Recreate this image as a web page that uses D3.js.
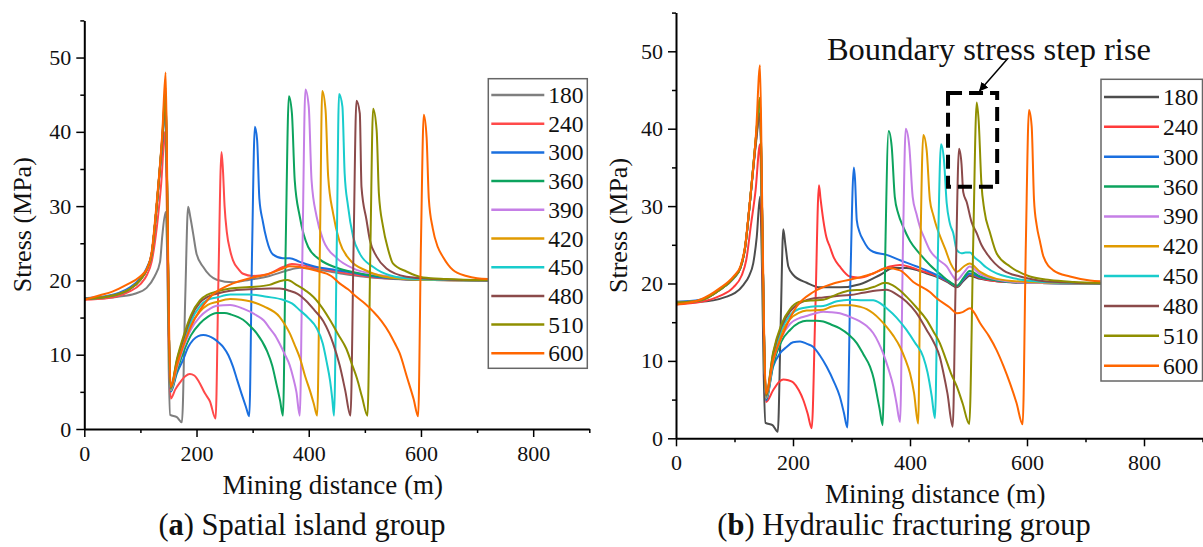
<!DOCTYPE html>
<html>
<head>
<meta charset="utf-8">
<script src="https://cdn.jsdelivr.net/npm/d3@7"></script>
<style>
  body { margin: 0; background: #fff; }
  svg text { font-family: "Liberation Serif", "Times New Roman", serif; fill: #111; }
</style>
</head>
<body>
<svg id="chart" width="1203" height="547"></svg>
<script>
// face positions (legend labels)
var distances = [180, 240, 300, 360, 390, 420, 450, 480, 510, 600];
var colorsA = ["#7f7f7f", "#ff4a4a", "#1a6fdf", "#0ca35e", "#c57fe6", "#e09a00", "#19cccc", "#8b4a4a", "#8f8f00", "#ff6600"];
var colorsB = ["#4d4d4d", "#ff3b3b", "#1a6fdf", "#0ca35e", "#c57fe6", "#e09a00", "#19cccc", "#8b4a4a", "#8f8f00", "#ff6600"];
var xTicks = [0, 200, 400, 600, 800];
var xMinor = [100, 300, 500, 700, 900];
var yTicks = [0, 10, 20, 30, 40, 50];
var yMinor = [5, 15, 25, 35, 45, 55];

// (a) spatial island group : [mining distance, stress]
var a180 = [[0,17.6],[30,17.6],[60,17.8],[90,18.2],[111,19.0],[125,20.5],[135,22.5],[139,26],[145,29.2],[148,22],[150.5,8],[153,1.9],[165,1.6],[174,0.9],[180,18],[185,29.9],[189,28.5],[194,26.3],[200,23.6],[212,21.8],[236,20.1],[265,19.75],[295,20.1],[330,20.6],[360,21.3],[385,21.7],[420,21.4],[460,20.9],[500,20.5],[550,20.2],[620,20.05],[720,20.0]];
var a240 = [[0,17.4],[40,17.6],[80,18.5],[100,19.5],[112,20.8],[120,22.5],[129,27],[137,33],[144,40],[147,30],[150,14],[154,4.1],[162,5.3],[170,6.2],[180,7.1],[188,7.4],[196,7.2],[204,6.4],[215,4.8],[224,3.7],[234,1.4],[239,20],[244.5,37.3],[247,35],[250,30],[254,26.5],[260,24],[265,22.7],[275,21.5],[283,20.9],[300,20.6],[325,20.8],[354,21.8],[370,22.2],[390,22.0],[420,21.6],[450,21.2],[480,20.8],[520,20.4],[560,20.2],[620,20.05],[720,20.0]];
var a300 = [[0,17.6],[40,17.9],[80,19.0],[100,20.3],[112,21.8],[120,23.6],[129,30],[139,38.5],[145,43.5],[148,30],[151,12],[154,5.0],[165,7.5],[176,9.3],[185,11],[194,12.0],[203,12.5],[212,12.65],[222,12.5],[230,12.2],[240,11.6],[248,11.0],[257,9.9],[265,8.4],[272,6.7],[280,4.8],[288,3.0],[294,1.7],[299,24],[304,40.7],[308,38.9],[312,31],[318,28],[325,25.5],[336,23.5],[354,23.0],[366,23.0],[384,22.5],[414,21.8],[440,21.5],[473,21.1],[500,20.7],[530,20.4],[570,20.15],[620,20.05],[720,20.0]];
var a360 = [[0,17.5],[40,17.8],[80,18.8],[100,20.1],[112,21.6],[120,23.5],[129,30],[139,39],[145,45],[148,30],[151,12],[154,5.1],[165,7.8],[176,10.2],[190,12.6],[206,14.2],[220,15.1],[236,15.6],[250,15.6],[262,15.4],[283,14.7],[295,13.9],[307,12.9],[325,10.6],[335,8.5],[342,6.2],[349,3.8],[354,1.8],[359,25],[364.6,44.8],[370,42.5],[375,33.5],[384,28.6],[399,24.5],[420,22.8],[450,21.7],[480,21.1],[520,20.6],[570,20.2],[640,20.05],[720,20.0]];
var a390 = [[0,17.5],[40,17.8],[80,18.8],[100,20.1],[112,21.6],[120,23.5],[129,30],[139,39.2],[145,45.5],[148,30],[151,12],[154,5.2],[165,8.2],[176,10.8],[190,13.4],[206,15.1],[220,16.0],[236,16.6],[260,16.7],[283,16.2],[307,15.3],[320,14.6],[331,13.5],[340,12.6],[348,11.5],[357,10.1],[366,8.6],[372,7.0],[378,5.0],[384,1.8],[389,25],[394,45.7],[400,43.4],[405,33.5],[414,28.6],[426,25.4],[450,23.0],[480,21.6],[520,20.8],[560,20.4],[620,20.1],[720,20.0]];
var a420 = [[0,17.5],[40,17.8],[80,18.8],[100,20.1],[112,21.6],[120,23.5],[129,30],[139,39.5],[145,46],[148,30],[151,12],[154,5.3],[165,8.6],[176,11.3],[190,14.0],[206,15.8],[220,16.7],[236,17.1],[260,17.5],[280,17.4],[295,17.2],[320,16.5],[348,15.1],[358,14.0],[366,12.9],[375,11.3],[384,9.6],[394,7.0],[402,5.2],[409,3.4],[415,1.8],[420,25],[424,45.5],[430,42.9],[434.6,34],[443.5,29],[455,25.2],[473,22.8],[503,21.3],[544,20.4],[600,20.1],[720,20.0]];
var a450 = [[0,17.5],[40,17.8],[80,18.8],[100,20.1],[112,21.6],[120,23.5],[129,30],[139,39.2],[145,45.2],[148,30],[151,12],[154,5.4],[165,8.9],[176,11.6],[190,14.5],[206,16.5],[220,17.4],[236,17.7],[260,18.1],[295,18.1],[325,17.8],[354,17.4],[370,16.9],[384,16.0],[400,14.9],[414,13.6],[425,11.5],[432,9.0],[438,6.5],[442,4.0],[445,1.8],[450,25],[454,45.1],[460,43.4],[464,34.4],[470,30],[479,25.9],[491,23.6],[515,21.8],[544,20.7],[590,20.2],[720,20.0]];
var a480 = [[0,17.5],[40,17.8],[80,18.8],[100,20.1],[112,21.6],[120,23.5],[129,30],[139,38.8],[145,44.5],[148,30],[151,12],[154,5.5],[165,9.2],[176,12.0],[190,15.0],[206,17.0],[220,17.8],[236,18.2],[260,18.6],[295,18.8],[330,18.9],[348,18.9],[366,18.6],[380,18.2],[396,17.2],[410,16.0],[426,14.5],[443.5,11.5],[455,8.6],[465,5.2],[474.4,1.8],[480,25],[485,44.2],[491,42.5],[494,32.6],[503,28.1],[509,25.4],[521,23.2],[538.5,21.6],[574,20.5],[622,20.2],[720,20.0]];
var a510 = [[0,17.5],[40,17.8],[80,18.8],[100,20.1],[112,21.6],[120,23.5],[129,30],[139,39],[145,45],[148,30],[151,12],[154,5.6],[165,9.4],[176,12.3],[190,15.3],[206,17.3],[220,18.1],[236,18.5],[260,18.9],[295,19.1],[330,19.4],[348,19.9],[362,20.05],[378,19.4],[395,18.6],[408,17.8],[425,16.2],[437.6,14.7],[452,12.8],[467,10.8],[478,8.5],[486,6.8],[495,4.3],[504.7,1.8],[510,25],[514.7,43.1],[521,40.2],[525,31.7],[532.5,27.2],[541,24.3],[550,22.3],[574,21.2],[604,20.4],[645,20.2],[720,20.05]];
var a600 = [[0,17.4],[28,18.0],[50,18.5],[75,19.4],[99,20.5],[112,21.6],[120,23.8],[129,30.5],[139,39.8],[145,48],[148,32],[151,14],[153.8,5.7],[165,8.6],[176,11.1],[190,13.8],[206,16.0],[220,17.4],[236,18.5],[250,19.1],[265,19.6],[295,20.3],[325,20.8],[354,21.6],[366,21.9],[384,21.8],[414,21.3],[440,20.6],[455,19.6],[470,18.8],[485,17.8],[500,16.9],[515,15.8],[530,14.5],[544,12.9],[553,11.6],[562,10.2],[575,7.0],[587,4.0],[595,1.7],[600,25],[605,42.3],[610,39.3],[614,31],[621,27],[630,24.5],[639,23.2],[657,21.4],[681,20.6],[700,20.3],[720,20.2]];

// (b) hydraulic fracturing group
var b180 = [[0,17.65],[41,17.65],[86.6,18.3],[115,19.8],[125,21],[132,22.6],[138,26],[143.6,31.2],[147,22],[150,8],[153,2.0],[165,1.7],[174,0.85],[179,15],[183.4,27.0],[187,25],[192,22.2],[200.5,21.1],[223.4,20.1],[246,19.5],[280,19.5],[314.5,19.9],[348.7,21.1],[371.5,22.0],[394,22.0],[428.5,21.3],[451,20.7],[468,20.0],[480,19.5],[492,20.4],[502,21.0],[520,20.6],[548,20.3],[600,20.1],[726,20.0]];
var b240 = [[0,17.3],[41,17.6],[75,18.4],[98,19.5],[112,21],[120,23],[128,27.5],[136,32],[143.6,38],[147,26],[151,10],[153.8,4.7],[166,6.2],[175,7.2],[183.4,7.6],[192,7.5],[200.5,7.2],[210,6.2],[217.6,4.95],[225,3.2],[232,1.3],[238,16],[244.4,32.7],[247,31],[251.8,28.2],[257,26],[263,24.75],[270,23.3],[280,22.2],[297.4,20.9],[314.5,20.75],[337,21.3],[365.8,22.2],[383,22.4],[417,21.7],[451,20.8],[468,20.1],[480,19.6],[492,20.6],[502,21.2],[520,20.7],[548,20.3],[600,20.1],[726,20.0]];
var b300 = [[0,17.6],[41,17.9],[75,19.2],[98,20.6],[110,22],[118,24.5],[126.5,30.5],[136.8,38.5],[143.6,43],[147,30],[151,11],[153.8,4.9],[166,9.25],[178,11],[189,11.8],[200,12.4],[212,12.5],[224,12.2],[234.7,11.8],[246,10.7],[257.6,9.25],[270,7.3],[280,5.4],[287,3.3],[292.9,1.4],[298,20],[304,35.0],[306,33.5],[309,28.2],[314,26.6],[320,25.6],[328,24.6],[337,24.1],[360,23.7],[383,23.0],[411.5,22.2],[445.6,21.1],[465,20.3],[480,19.7],[492,20.6],[502,21.3],[520,20.8],[548,20.4],[600,20.1],[726,20.0]];
var b360 = [[0,17.5],[41,17.8],[75,19.2],[98,20.7],[110,22],[118,24.6],[126.5,30.6],[136.8,39],[143.6,44],[147,30],[151,11],[153.8,5.1],[166,9.5],[180,12.5],[195,14.0],[210,14.9],[223.4,15.2],[240,15.2],[251.8,15.1],[265,14.7],[280,14.2],[295,13.4],[309,12.3],[320,10.9],[331.6,9.25],[338,7.7],[343,5.8],[348,3.8],[353.3,1.7],[358,25],[363.5,39.7],[368.7,37.7],[374,31.2],[380,29],[388.5,27.3],[400,25.5],[415,24],[434,22.4],[455,21],[468,20.2],[480,19.7],[492,20.8],[502,21.6],[520,20.9],[548,20.4],[600,20.1],[726,20.0]];
var b390 = [[0,17.5],[41,17.8],[75,19.2],[98,20.7],[110,22],[118,24.6],[126.5,30.6],[136.8,38.6],[143.6,43],[147,30],[151,11],[153.8,5.2],[166,10],[180,13],[195,14.8],[210,15.5],[223.4,15.8],[240,16.2],[251.8,16.35],[265,16.3],[280,16.15],[297,15.7],[314.5,15.1],[326,14.5],[337,13.6],[346,12.4],[354,11.0],[363,9],[371.5,6.7],[377,4.5],[383,2.1],[388,25],[392.7,40.0],[398.8,37.7],[404.6,31.2],[411,29],[417,27.3],[425,25.8],[434,24.3],[448,23.1],[462.7,22.2],[472,21.1],[480,20.45],[492,21.4],[502,22.2],[520,21.2],[548,20.5],[600,20.1],[726,20.0]];
var b420 = [[0,17.5],[41,17.8],[75,19.2],[98,20.7],[110,22],[118,24.6],[126.5,30.6],[136.8,39],[143.6,44],[147,30],[151,11],[153.8,5.3],[166,10.3],[180,13.6],[195,15.4],[210,16.2],[223.4,16.5],[251.8,16.6],[265,17.0],[280,17.2],[300,17.2],[314.5,17.0],[326,16.7],[337,16.15],[348,15.4],[360,14.4],[372,13.2],[383,11.8],[392,10.2],[400,8.4],[407,5.8],[414,1.9],[418,25],[422.7,39.2],[428.5,37.2],[434,30.8],[440,28.8],[445.6,27.3],[452,26],[460,24.5],[470,22.5],[480,21.5],[492,22.2],[502,22.6],[520,21.5],[548,20.6],[600,20.2],[726,20.0]];
var b450 = [[0,17.5],[41,17.8],[75,19.2],[98,20.7],[110,22],[118,24.6],[126.5,30.6],[136.8,38.6],[143.6,43],[147,30],[151,11],[153.8,5.4],[166,10.6],[180,14],[195,15.9],[210,16.7],[230,17.0],[251.8,17.1],[275,17.7],[297.4,17.9],[320,17.85],[337,17.85],[350,17.4],[360,16.8],[377,15.6],[394,14.0],[408,12.4],[422.7,10.5],[430,8.5],[437,5.5],[442.7,2.6],[448,25],[453,38.0],[458,36.0],[462.7,30.4],[468,27.8],[474,26.5],[480,24.3],[488,23.9],[495,24],[502.6,24.0],[510,23.4],[519.7,22.8],[530,22.1],[548,21.3],[570,20.8],[594,20.45],[640,20.15],[726,20.0]];
var b480 = [[0,17.5],[41,17.8],[75,19.2],[98,20.7],[110,22],[118,24.6],[126.5,30.6],[136.8,38.2],[143.6,42],[147,30],[151,11],[153.8,5.5],[166,10.9],[180,14.4],[195,16.4],[210,17.4],[230,18.0],[251.8,18.2],[275,18.4],[297.4,18.5],[320,18.8],[343,19.1],[360,19.2],[377,18.6],[394,17.65],[410,16.3],[428.5,14.0],[440,12.5],[451,10.5],[457,8.5],[464,5.8],[473,1.5],[478,20],[483.8,37.4],[488,35.5],[491,31.8],[497,30.5],[505,28],[514,26.5],[522,25],[531,23.9],[545,22.6],[559.5,21.7],[588,20.9],[620,20.4],[660,20.15],[726,20.0]];
var b510 = [[0,17.5],[41,17.8],[75,19.2],[98,20.7],[110,22],[118,24.6],[126.5,30.6],[136.8,39],[143.6,44],[147,30],[151,11],[153.8,5.6],[166,11.1],[180,14.7],[195,16.7],[210,17.6],[230,17.8],[251.8,17.9],[275,18.6],[297.4,19.1],[320,19.2],[340,19.6],[357,20.1],[370,19.8],[383,19.1],[394,18.3],[410,17],[428.5,15.3],[440,13.8],[451,12.3],[460,10.5],[470,8.4],[480,6.7],[490,4.5],[501.4,1.85],[508,25],[514,43.4],[517.4,41],[522,33],[527,29.5],[537,26.5],[548,23.9],[571,22.2],[605,20.9],[639,20.45],[680,20.2],[726,20.05]];
var b600 = [[0,17.3],[41,17.9],[75,19.4],[98,20.9],[110,22.2],[118,24.8],[126.5,30.8],[136.8,39.4],[143.6,48.2],[147,32],[151,12],[153.8,5.8],[166,10.1],[183.4,13.6],[206,17.0],[234.7,18.9],[269,20.0],[309,20.7],[337,21.3],[360,22.0],[383,21.7],[405.6,20.2],[434,18.9],[445.6,18.1],[468,16.9],[480,16.15],[490,16.3],[502.6,16.8],[510,16.2],[519.7,14.9],[535,13.2],[548,11.4],[560,9.3],[571,7.1],[582,4.6],[592.6,1.8],[598,25],[603.4,42.4],[608,40.3],[612,30.8],[616.6,27.5],[622,25.5],[628,23.5],[645,21.7],[673.5,20.9],[707.7,20.4],[726,20.3]];

var islandSeries = [a180, a240, a300, a360, a390, a420, a450, a480, a510, a600];
var fracSeries = [b180, b240, b300, b360, b390, b420, b450, b480, b510, b600];

var FONT = '"Liberation Serif", "Times New Roman", serif';
var svg = d3.select("#chart");

svg.append("defs").append("marker")
    .attr("id", "arrow")
    .attr("viewBox", "0 0 10 10")
    .attr("refX", 9).attr("refY", 5)
    .attr("markerWidth", 9).attr("markerHeight", 9)
    .attr("markerUnits", "userSpaceOnUse")
    .attr("orient", "auto")
    .append("path").attr("d", "M0,0 L10,5 L0,10 Z").attr("fill", "#000");

function drawPanel(p) {
    var x = d3.scaleLinear().domain([0, 900]).range([p.left, p.right]);
    var y = d3.scaleLinear().domain([0, 55]).range([p.bottom, p.top]);
    var g = svg.append("g");

    var line = d3.line()
        .x(function(d) { return x(d[0]); })
        .y(function(d) { return y(d[1]); })
        .curve(d3.curveMonotoneX);

    g.append("g").selectAll("path")
        .data(p.series)
        .join("path")
        .attr("d", line)
        .attr("fill", "none")
        .attr("stroke", function(d, i) { return p.colors[i]; })
        .attr("stroke-width", 2)
        .attr("stroke-linejoin", "round");

    // minor ticks first, majors over them
    g.append("g")
        .attr("transform", "translate(0," + p.bottom + ")")
        .call(d3.axisBottom(x).tickValues(xMinor).tickSize(4).tickSizeOuter(0).tickFormat(""))
        .call(function(s) { s.select(".domain").remove(); });
    g.append("g")
        .attr("transform", "translate(" + p.left + ",0)")
        .call(d3.axisLeft(y).tickValues(yMinor).tickSize(4).tickSizeOuter(0).tickFormat(""))
        .call(function(s) { s.select(".domain").remove(); });

    g.append("g")
        .attr("transform", "translate(0," + p.bottom + ")")
        .call(d3.axisBottom(x).tickValues(xTicks).tickSize(8).tickSizeOuter(0).tickPadding(8));
    g.append("g")
        .attr("transform", "translate(" + p.left + ",0)")
        .call(d3.axisLeft(y).tickValues(yTicks).tickSize(8).tickSizeOuter(0).tickPadding(5));

    g.selectAll(".tick line").attr("stroke", "#000").attr("stroke-width", 1.5);
    g.selectAll(".domain").attr("stroke", "#000").attr("stroke-width", 2);
    g.selectAll(".tick text").attr("font-size", 22).attr("fill", "#111")
        .attr("font-family", FONT).style("font-family", FONT);

    // axis titles
    g.append("text")
        .attr("x", (p.left + p.right) / 2 - 4)
        .attr("y", p.bottom + 65)
        .attr("text-anchor", "middle")
        .attr("font-size", 27)
        .text("Mining distance (m)");
    g.append("text")
        .attr("transform", "translate(" + p.yTitleX + "," + (p.top + p.bottom) / 2 + ") rotate(-90)")
        .attr("text-anchor", "middle")
        .attr("font-size", 26)
        .text("Stress (MPa)");

    // caption
    var cap = g.append("text")
        .attr("x", p.captionX)
        .attr("y", 535)
        .attr("text-anchor", "middle")
        .attr("font-size", 30.5);
    cap.append("tspan").text("(");
    cap.append("tspan").attr("font-weight", "bold").text(p.letter);
    cap.append("tspan").text(") " + p.caption);

    // legend
    var lg = g.append("g");
    lg.append("rect")
        .attr("x", p.legend.x).attr("y", p.legend.y)
        .attr("width", p.legend.w).attr("height", p.legend.h)
        .attr("fill", "#fff").attr("stroke", "#666").attr("stroke-width", 1.5);
    var rows = lg.selectAll("g.row").data(distances).join("g")
        .attr("class", "row")
        .attr("transform", function(d, i) {
            return "translate(" + (p.legend.x + 3) + "," + (p.legend.y + p.legend.first + i * p.legend.step) + ")";
        });
    rows.append("line")
        .attr("x1", 0).attr("x2", p.legend.lineLen)
        .attr("stroke", function(d, i) { return p.colors[i]; })
        .attr("stroke-width", 2.5);
    rows.append("text")
        .attr("x", p.legend.lineLen + 4)
        .attr("y", 8)
        .attr("font-size", 23.5)
        .text(function(d) { return d; });

    return { x: x, y: y, g: g };
}

drawPanel({
    left: 84.3, right: 589.3, top: 20.4, bottom: 429,
    series: islandSeries, colors: colorsA,
    yTitleX: 31, captionX: 302, letter: "a", caption: "Spatial island group",
    legend: { x: 488.3, y: 78.7, w: 99, h: 289.6, first: 16.3, step: 28.7, lineLen: 53 }
});

var pb = drawPanel({
    left: 676, right: 1202.5, top: 12.6, bottom: 438.3,
    series: fracSeries, colors: colorsB,
    yTitleX: 627, captionX: 904, letter: "b", caption: "Hydraulic fracturing group",
    legend: { x: 1101, y: 79.3, w: 101.5, h: 301.7, first: 17.7, step: 29.85, lineLen: 55 }
});

// annotation on panel (b)
var boxX0 = 465, boxX1 = 549, boxY0 = 32.5, boxY1 = 44.6;
pb.g.append("rect")
    .attr("x", pb.x(boxX0)).attr("y", pb.y(boxY1))
    .attr("width", pb.x(boxX1) - pb.x(boxX0))
    .attr("height", pb.y(boxY0) - pb.y(boxY1))
    .attr("fill", "none").attr("stroke", "#000")
    .attr("stroke-width", 4).attr("stroke-dasharray", "14,7");
pb.g.append("line")
    .attr("x1", pb.x(567.5)).attr("y1", pb.y(49.1))
    .attr("x2", pb.x(519)).attr("y2", pb.y(44.9))
    .attr("stroke", "#000").attr("stroke-width", 1.5)
    .attr("marker-end", "url(#arrow)");
pb.g.append("text")
    .attr("x", pb.x(258)).attr("y", pb.y(48.9))
    .attr("font-size", 32.5)
    .text("Boundary stress step rise");
</script>
</body>
</html>
